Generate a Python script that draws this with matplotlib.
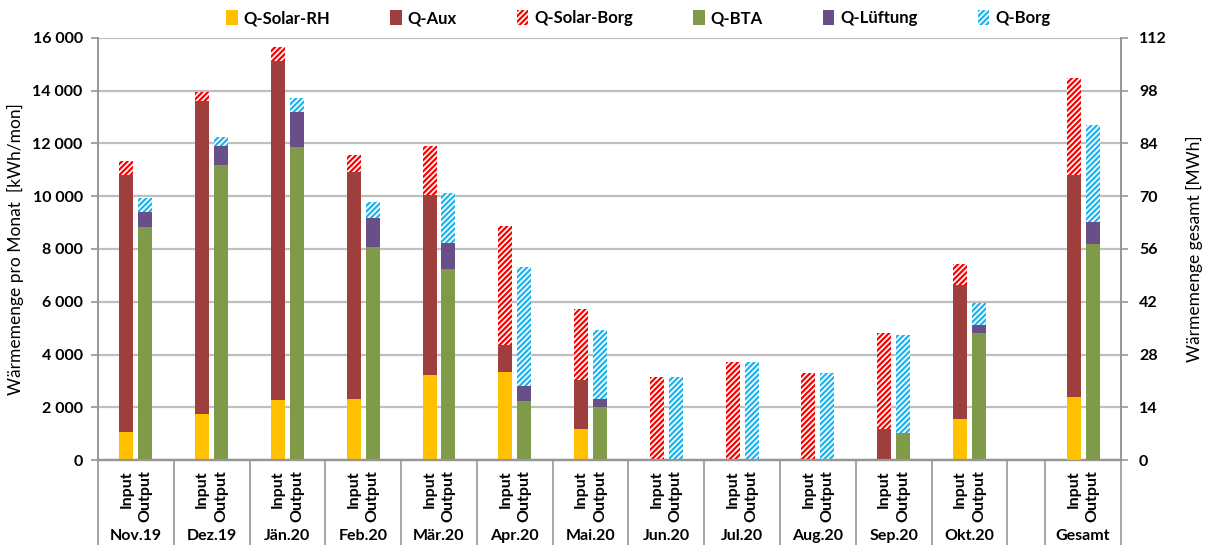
import matplotlib
matplotlib.use("Agg")
import matplotlib.pyplot as plt
from matplotlib.patches import Patch
from matplotlib.ticker import FuncFormatter, MultipleLocator

plt.rcParams['font.family'] = ['Lato', 'DejaVu Sans']
plt.rcParams['hatch.linewidth'] = 1.6

# Monthly heat quantities [kWh/mon]
months = ["Nov.19", "Dez.19", "Jän.20", "Feb.20", "Mär.20", "Apr.20",
          "Mai.20", "Jun.20", "Jul.20", "Aug.20", "Sep.20", "Okt.20"]
solar_rh   = [1080, 1750, 2270, 2310, 3220, 3320, 1170, 0, 0, 0, 0, 1560]
aux        = [9730, 11850, 12870, 8610, 6820, 1050, 1870, 0, 0, 0, 1170, 5090]
solar_borg = [510, 350, 520, 640, 1870, 4490, 2690, 3150, 3710, 3280, 3660, 800]
bta        = [8820, 11190, 11870, 8090, 7260, 2220, 2020, 0, 0, 0, 1010, 4830]
lueftung   = [580, 720, 1330, 1090, 980, 570, 290, 0, 0, 0, 30, 300]
borg       = [520, 330, 530, 600, 1870, 4510, 2630, 3150, 3710, 3280, 3690, 830]

# Yearly totals [MWh]
total_label = "Gesamt"
total_input = {"Q-Solar-RH": 16.7, "Q-Aux": 59.0, "Q-Solar-Borg": 25.7}
total_output = {"Q-BTA": 57.3, "Q-Lüftung": 5.9, "Q-Borg": 25.7}

sub_labels = ["Input", "Output"]

C_RH = "#FFC000"
C_AUX = "#9E3F3D"
C_SB = "#FF0000"
C_BTA = "#7F9A48"
C_LUE = "#684F87"
C_BORG = "#1CB4EC"
GRID = "#BFBFBF"
AXC = "#969696"
HATCH = "//////"

fig = plt.figure(figsize=(12.15, 5.45), dpi=100)
ax = fig.add_axes([98 / 1215, 85 / 545, 1023 / 1215, 422 / 545])
ax2 = ax.twinx()

W = 0.37
OFF = 0.25


def solid(axis, x, h, b, c):
    axis.bar(x, h, W, bottom=b, color=c, linewidth=0, zorder=3)


def hatched(axis, x, h, b, c):
    axis.bar(x, h, W, bottom=b, facecolor="white", edgecolor=c,
             hatch=HATCH, linewidth=0, zorder=3)


centers = [1 + 2 * i for i in range(len(months))]
for i, xc in enumerate(centers):
    xi, xo = xc - OFF, xc + OFF
    b = 0
    solid(ax, xi, solar_rh[i], b, C_RH); b += solar_rh[i]
    solid(ax, xi, aux[i], b, C_AUX); b += aux[i]
    hatched(ax, xi, solar_borg[i], b, C_SB)
    b = 0
    solid(ax, xo, bta[i], b, C_BTA); b += bta[i]
    solid(ax, xo, lueftung[i], b, C_LUE); b += lueftung[i]
    hatched(ax, xo, borg[i], b, C_BORG)

# Totals on the secondary axis
gx = 26
b = 0
solid(ax2, gx - OFF, total_input["Q-Solar-RH"], b, C_RH); b += total_input["Q-Solar-RH"]
solid(ax2, gx - OFF, total_input["Q-Aux"], b, C_AUX); b += total_input["Q-Aux"]
hatched(ax2, gx - OFF, total_input["Q-Solar-Borg"], b, C_SB)
b = 0
solid(ax2, gx + OFF, total_output["Q-BTA"], b, C_BTA); b += total_output["Q-BTA"]
solid(ax2, gx + OFF, total_output["Q-Lüftung"], b, C_LUE); b += total_output["Q-Lüftung"]
hatched(ax2, gx + OFF, total_output["Q-Borg"], b, C_BORG)

ax.set_xlim(0, 27)
ax.set_ylim(0, 16000)
ax2.set_ylim(0, 112)
ax.yaxis.set_major_locator(MultipleLocator(2000))
ax2.yaxis.set_major_locator(MultipleLocator(14))
ax.yaxis.set_major_formatter(FuncFormatter(lambda v, p: f"{int(v):,}".replace(",", " ")))
ax.grid(axis="y", color=GRID, linewidth=1.6, zorder=0)
ax.set_axisbelow(True)
ax2.set_zorder(ax.get_zorder() + 1)
ax2.patch.set_visible(False)

for a in (ax, ax2):
    a.set_xticks([])
    a.spines["top"].set_visible(False)
    a.spines["left"].set_color(AXC)
    a.spines["right"].set_color(AXC)
    a.spines["bottom"].set_color(AXC)
    a.spines["left"].set_linewidth(1.2)
    a.spines["right"].set_linewidth(1.2)
    a.spines["bottom"].set_linewidth(1.6)
    a.tick_params(axis="y", colors=AXC, length=5, width=1.2, labelsize=11.5,
                  labelcolor="black")
for lab in ax.get_yticklabels() + ax2.get_yticklabels():
    lab.set_fontweight("bold")
ax.tick_params(axis="y", pad=6)
ax2.tick_params(axis="y", pad=8)

ax.set_ylabel("Wärmemenge pro Monat  [kWh/mon]", fontsize=12.5, labelpad=6)
ax2.set_ylabel("Wärmemenge gesamt [MWh]", fontsize=12.5, labelpad=14)

# Two-level category axis
tr = ax.get_xaxis_transform()
y_bot = -85 / 422
for xs in list(range(0, 25, 2)) + [25, 27]:
    ax.plot([xs, xs], [0, y_bot], transform=tr, color=AXC, linewidth=1.2,
            clip_on=False, zorder=1)

for xc in centers + [gx]:
    for k, lab in enumerate(sub_labels):
        ax.text(xc + (OFF if k else -OFF), -10 / 422, lab, transform=tr,
                rotation=90, ha="center", va="top", fontsize=11.5,
                fontweight="bold")
for xc, lab in zip(centers + [gx], months + [total_label]):
    ax.text(xc, -76 / 422, lab, transform=tr, ha="center", va="center",
            fontsize=11.5, fontweight="bold")

handles = [
    Patch(facecolor=C_RH, label="Q-Solar-RH"),
    Patch(facecolor=C_AUX, label="Q-Aux"),
    Patch(facecolor="white", edgecolor=C_SB, hatch=HATCH, linewidth=0, label="Q-Solar-Borg"),
    Patch(facecolor=C_BTA, label="Q-BTA"),
    Patch(facecolor=C_LUE, label="Q-Lüftung"),
    Patch(facecolor="white", edgecolor=C_BORG, hatch=HATCH, linewidth=0, label="Q-Borg"),
]
leg = fig.legend(handles=handles, loc="center", bbox_to_anchor=(638 / 1215, 1 - 18 / 545),
                 ncol=6, frameon=False, handlelength=0.7, handleheight=1.0,
                 handletextpad=0.35, columnspacing=3.6,
                 prop={"size": 12, "weight": "bold"})

fig.savefig("out.png", dpi=100)
